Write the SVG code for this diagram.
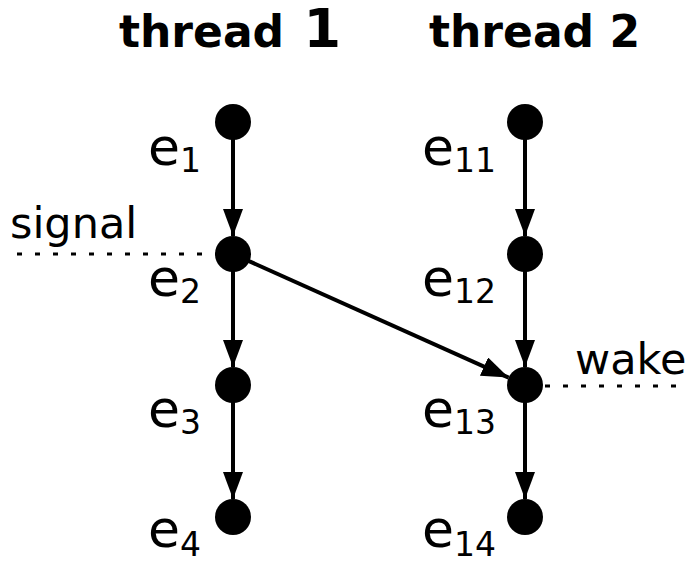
<svg xmlns="http://www.w3.org/2000/svg" width="689" height="563" viewBox="0 0 689 563">
  <style>
    text { font-family: "DejaVu Sans", "Noto Sans", sans-serif; fill: #000; }
    .title { font-weight: bold; font-size: 44px; }
    .lbl { font-size: 52px; }
    .sub { font-size: 33px; }
    .note { font-size: 43px; }
    .node { fill: #000; }
    .edge { stroke: #000; stroke-width: 4; fill: none; marker-end: url(#arrow); }
    .dots { stroke: #000; stroke-width: 3; stroke-dasharray: 5 13; fill: none; }
  </style>
  <defs>
    <marker id="arrow" viewBox="0 0 27 20" refX="27" refY="10" markerWidth="27" markerHeight="20" markerUnits="userSpaceOnUse" orient="auto">
      <path d="M0,0 L27,10 L0,20 Z" fill="#000"/>
    </marker>
  </defs>

  <!-- column headings -->
  <text class="title" x="119" y="47">thread <tspan font-size="54" dx="4">1</tspan></text>
  <text class="title" x="429" y="47">thread 2</text>

  <!-- dotted markers for signal / wake -->
  <g id="signal-mark">
    <line class="dots" x1="17" y1="254" x2="218" y2="254"/>
    <text class="note" x="10" y="238">signal</text>
  </g>
  <g id="wake-mark">
    <line class="dots" x1="545" y1="386" x2="689" y2="386"/>
    <text class="note" x="575" y="374">wake</text>
  </g>

  <!-- connectors -->
  <g id="edges">
    <line class="edge" x1="233" y1="122" x2="233" y2="236"/>
    <line class="edge" x1="233" y1="254" x2="233" y2="367"/>
    <line class="edge" x1="233" y1="385" x2="233" y2="499"/>
    <line class="edge" x1="525" y1="122" x2="525" y2="236"/>
    <line class="edge" x1="525" y1="254" x2="525" y2="367"/>
    <line class="edge" x1="525" y1="385" x2="525" y2="499"/>
    <line class="edge" x1="233" y1="254" x2="508.6" y2="377.6"/>
  </g>

  <!-- thread 1 events -->
  <g id="e1"><circle class="node" cx="233" cy="122" r="18"/><text class="lbl" x="148" y="165">e<tspan class="sub" dy="7">1</tspan></text></g>
  <g id="e2"><circle class="node" cx="233" cy="254" r="18"/><text class="lbl" x="148" y="296">e<tspan class="sub" dy="7">2</tspan></text></g>
  <g id="e3"><circle class="node" cx="233" cy="385" r="18"/><text class="lbl" x="148" y="427">e<tspan class="sub" dy="7">3</tspan></text></g>
  <g id="e4"><circle class="node" cx="233" cy="517" r="18"/><text class="lbl" x="148" y="547">e<tspan class="sub" dy="9">4</tspan></text></g>

  <!-- thread 2 events -->
  <g id="e11"><circle class="node" cx="525" cy="122" r="18"/><text class="lbl" x="422" y="165">e<tspan class="sub" dy="7">11</tspan></text></g>
  <g id="e12"><circle class="node" cx="525" cy="254" r="18"/><text class="lbl" x="422" y="296">e<tspan class="sub" dy="7">12</tspan></text></g>
  <g id="e13"><circle class="node" cx="525" cy="385" r="18"/><text class="lbl" x="422" y="427">e<tspan class="sub" dy="7">13</tspan></text></g>
  <g id="e14"><circle class="node" cx="525" cy="517" r="18"/><text class="lbl" x="422" y="547">e<tspan class="sub" dy="9">14</tspan></text></g>
</svg>
